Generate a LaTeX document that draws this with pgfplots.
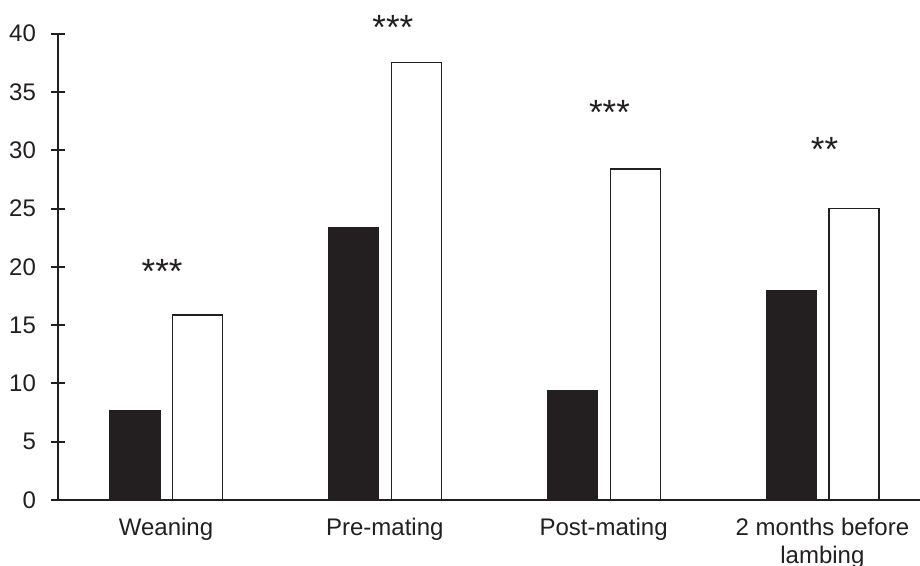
\documentclass[border=0pt]{standalone}
\usepackage{fontspec}
\setmainfont{Liberation Sans}
\usepackage{pgfplots}
\pgfplotsset{compat=1.18}
\definecolor{ink}{HTML}{231F20}
\begin{document}
\begin{tikzpicture}
\begin{axis}[
 scale only axis, width=431pt, height=233.25pt,
 xmin=-0.4936, xmax=3.446, ymin=0, ymax=40,
 axis x line*=bottom, axis y line*=left,
 axis line style={ink, line width=1pt},
 xtick={0,1,2,3},
 xticklabels={Weaning, Pre-mating, Post-mating, {2 months before\\lambing}},
 xtick style={draw=none},
 ytick={0,5,...,40},
 tick align=center, major tick length=7pt,
 ytick style={ink, line width=1pt},
 tick label style={font=\fontsize{12}{14}\selectfont, text=ink},
 xticklabel style={align=center, yshift=1.5pt},
 yticklabel style={xshift=-4pt},
 /pgf/number format/assume math mode=true,
 ybar, bar width=0.2285,
 clip=false,
]
\addplot[fill=ink, draw=ink, line width=0.6pt, bar shift=-0.1417] coordinates {(0,7.63) (1,23.39) (2,9.37) (3,18.0)};
\addplot[fill=white, draw=ink, line width=0.6pt, bar shift=0.1440] coordinates {(0,15.87) (1,37.54) (2,28.39) (3,25.02)};
\node[anchor=base, font=\fontsize{17.5}{20}\selectfont, text=ink] at (axis cs:-0.018,18.57) {***};
\node[anchor=base, font=\fontsize{17.5}{20}\selectfont, text=ink] at (axis cs:1.037,39.49) {***};
\node[anchor=base, font=\fontsize{17.5}{20}\selectfont, text=ink] at (axis cs:2.027,32.2) {***};
\node[anchor=base, font=\fontsize{17.5}{20}\selectfont, text=ink] at (axis cs:3.01,29.07) {**};
\coordinate (bl) at (axis cs:-0.7587,-5.57);
\coordinate (tr) at (axis cs:3.446,42.88);
\end{axis}
\pgfresetboundingbox
\path[use as bounding box] (bl) rectangle (tr);
\end{tikzpicture}
\end{document}
